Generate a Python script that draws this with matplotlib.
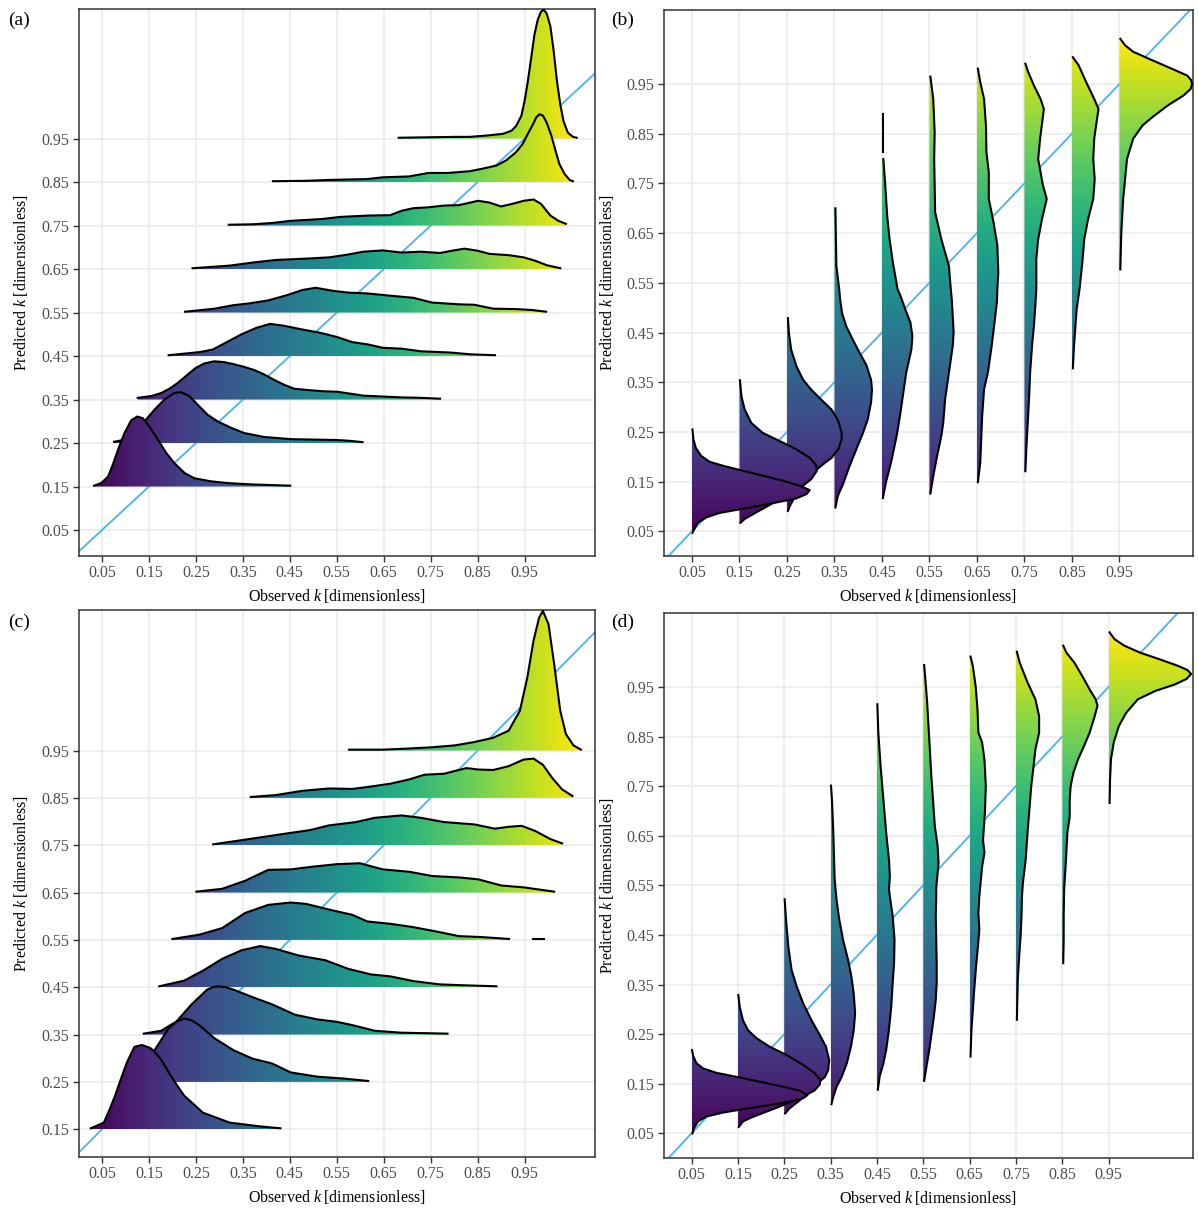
import numpy as np
import matplotlib
matplotlib.use('Agg')
import matplotlib.pyplot as plt
from matplotlib.colors import Normalize
from matplotlib.patches import Polygon

plt.rcParams['font.family'] = ['Liberation Serif', 'DejaVu Serif']
plt.rcParams['mathtext.fontset'] = 'custom'
plt.rcParams['mathtext.it'] = 'Liberation Serif:italic'
plt.rcParams['mathtext.rm'] = 'Liberation Serif'

nan = np.nan
tick_vals = [0.05, 0.15, 0.25, 0.35, 0.45, 0.55, 0.65, 0.75, 0.85, 0.95]

# ---------- panel (a): horizontal ridges, density over observed k ----------
a_levels = [0.15, 0.25, 0.35, 0.45, 0.55, 0.65, 0.75, 0.85, 0.95]
a_obs = [
    [0.033, 0.0485, 0.063, 0.073, 0.084, 0.098, 0.112, 0.125, 0.137, 0.151, 0.169, 0.187, 0.204, 0.226, 0.247, 0.282, 0.318, 0.367, 0.451],
    [0.0755, 0.091, 0.112, 0.130, 0.144, 0.162, 0.183, 0.204, 0.218, 0.236, 0.254, 0.275, 0.296, 0.325, 0.353, 0.395, 0.452, 0.551, 0.580, 0.605],
    [0.126, 0.155, 0.176, 0.194, 0.211, 0.233, 0.250, 0.268, 0.289, 0.311, 0.332, 0.353, 0.374, 0.395, 0.417, 0.438, 0.459, 0.487, 0.523, 0.551, 0.607, 0.688, 0.729, 0.770],
    [0.192, 0.257, 0.286, 0.314, 0.347, 0.379, 0.408, 0.436, 0.477, 0.517, 0.550, 0.583, 0.615, 0.648, 0.688, 0.729, 0.794, 0.835, 0.887],
    [0.227, 0.290, 0.330, 0.363, 0.404, 0.444, 0.477, 0.505, 0.542, 0.574, 0.615, 0.672, 0.713, 0.753, 0.810, 0.843, 0.883, 0.932, 0.965, 0.996],
    [0.243, 0.322, 0.371, 0.420, 0.485, 0.534, 0.566, 0.607, 0.648, 0.688, 0.729, 0.770, 0.794, 0.822, 0.851, 0.875, 0.916, 0.948, 0.973, 0.997, 1.026],
    [0.320, 0.371, 0.412, 0.452, 0.517, 0.558, 0.615, 0.664, 0.688, 0.713, 0.745, 0.778, 0.810, 0.851, 0.875, 0.900, 0.924, 0.948, 0.969, 0.985, 1.005, 1.022, 1.038],
    [0.414, 0.485, 0.534, 0.615, 0.648, 0.704, 0.745, 0.786, 0.833, 0.861, 0.890, 0.911, 0.932, 0.946, 0.957, 0.968, 0.975, 0.982, 0.989, 0.997, 1.007, 1.016, 1.024, 1.035, 1.046, 1.053],
    [0.682, 0.802, 0.833, 0.869, 0.904, 0.922, 0.932, 0.943, 0.950, 0.957, 0.964, 0.971, 0.978, 0.985, 0.991, 0.997, 1.005, 1.012, 1.019, 1.026, 1.033, 1.042, 1.053, 1.061],
]
a_dens = [
    [.002, .008, .023, .050, .084, .123, .152, .161, .157, .138, .108, .077, .054, .031, .019, .012, .008, .005, .002],
    [.003, .006, .019, .037, .054, .077, .100, .115, .117, .108, .088, .065, .050, .035, .023, .014, .009, .007, .005, .002],
    [.004, .008, .015, .025, .038, .058, .073, .083, .088, .086, .081, .075, .068, .058, .045, .034, .025, .022, .019, .018, .009, .005, .004, .002],
    [.002, .009, .015, .031, .050, .065, .074, .070, .061, .053, .044, .032, .027, .019, .017, .011, .008, .004, .002],
    [.002, .009, .017, .021, .028, .040, .052, .057, .050, .046, .044, .038, .034, .023, .019, .018, .009, .008, .006, .002],
    [.002, .008, .015, .021, .024, .027, .032, .040, .043, .038, .040, .037, .042, .047, .042, .035, .032, .027, .019, .009, .002],
    [.002, .003, .006, .011, .015, .020, .023, .024, .034, .040, .042, .046, .047, .057, .053, .044, .050, .057, .060, .050, .023, .011, .004],
    [.002, .003, .005, .007, .011, .013, .021, .021, .025, .031, .038, .050, .069, .088, .111, .133, .149, .156, .153, .137, .107, .072, .042, .019, .005, .002],
    [.002, .004, .004, .007, .011, .018, .029, .052, .086, .132, .185, .239, .273, .292, .296, .288, .258, .201, .132, .079, .040, .014, .004, .002],
]

# ---------- panel (c) ----------
c_levels = [0.15, 0.25, 0.35, 0.45, 0.55, 0.65, 0.75, 0.85, 0.95]
c_obs = [
    [0.026, 0.054, 0.066, 0.078, 0.091, 0.103, 0.119, 0.135, 0.152, 0.160, 0.176, 0.192, 0.209, 0.225, 0.265, 0.322, 0.387, 0.430],
    [0.103, 0.135, 0.160, 0.192, 0.209, 0.225, 0.241, 0.257, 0.290, 0.330, 0.371, 0.412, 0.452, 0.509, 0.566, 0.617],
    [0.139, 0.176, 0.209, 0.241, 0.274, 0.286, 0.298, 0.314, 0.330, 0.371, 0.412, 0.461, 0.509, 0.550, 0.583, 0.631, 0.688, 0.786],
    [0.172, 0.225, 0.265, 0.306, 0.347, 0.387, 0.420, 0.469, 0.526, 0.574, 0.623, 0.664, 0.713, 0.770, 0.826, 0.890],
    [0.200, 0.257, 0.306, 0.355, 0.404, 0.452, 0.485, 0.534, 0.583, 0.615, 0.664, 0.713, 0.761, 0.810, 0.859, 0.917, 0.940, 0.969, 0.991],
    [0.251, 0.306, 0.355, 0.404, 0.452, 0.501, 0.550, 0.599, 0.648, 0.704, 0.753, 0.810, 0.851, 0.900, 0.948, 1.013],
    [0.287, 0.363, 0.444, 0.493, 0.534, 0.591, 0.631, 0.688, 0.729, 0.778, 0.843, 0.887, 0.916, 0.944, 0.973, 1.005, 1.030],
    [0.367, 0.420, 0.477, 0.534, 0.583, 0.615, 0.664, 0.704, 0.737, 0.778, 0.826, 0.851, 0.883, 0.916, 0.948, 0.969, 0.989, 1.009, 1.030, 1.052],
    [0.576, 0.648, 0.696, 0.753, 0.802, 0.843, 0.883, 0.916, 0.940, 0.956, 0.969, 0.981, 0.989, 1.001, 1.013, 1.026, 1.038, 1.054, 1.070],
]
c_dens = [
    [.002, .014, .041, .071, .108, .141, .174, .178, .172, .166, .147, .120, .094, .071, .035, .014, .006, .002],
    [.002, .021, .064, .113, .127, .134, .130, .120, .092, .067, .049, .039, .020, .011, .007, .002],
    [.002, .008, .028, .064, .095, .100, .102, .100, .095, .079, .064, .042, .032, .027, .020, .008, .004, .002],
    [.002, .014, .035, .060, .078, .087, .081, .067, .057, .039, .027, .023, .013, .006, .004, .002],
    [.002, .011, .025, .057, .074, .079, .076, .064, .053, .039, .034, .027, .018, .008, .006, .002, nan, .002, .002],
    [.002, .008, .025, .048, .049, .055, .060, .062, .049, .044, .035, .032, .028, .015, .011, .002],
    [.002, .013, .025, .032, .042, .049, .058, .063, .058, .049, .044, .035, .039, .041, .030, .013, .004],
    [.002, .006, .015, .020, .019, .023, .030, .039, .049, .051, .063, .060, .059, .067, .081, .083, .070, .042, .018, .004],
    [.002, .002, .004, .007, .011, .018, .027, .042, .084, .155, .232, .281, .295, .267, .183, .084, .035, .011, .002],
]

# ---------- panel (b): vertical ridges, density over predicted k ----------
b_levels = [0.05, 0.15, 0.25, 0.35, 0.45, 0.55, 0.65, 0.75, 0.85, 0.95]
b_pred = [
    [0.047, 0.051, 0.067, 0.078, 0.087, 0.093, 0.100, 0.108, 0.116, 0.125, 0.133, 0.142, 0.152, 0.162, 0.172, 0.182, 0.190, 0.202, 0.218, 0.235, 0.255],
    [0.067, 0.075, 0.088, 0.100, 0.115, 0.128, 0.142, 0.155, 0.172, 0.182, 0.198, 0.215, 0.232, 0.248, 0.268, 0.295, 0.322, 0.354],
    [0.091, 0.101, 0.115, 0.142, 0.168, 0.185, 0.198, 0.215, 0.235, 0.248, 0.272, 0.295, 0.315, 0.335, 0.355, 0.382, 0.415, 0.449, 0.479],
    [0.098, 0.121, 0.145, 0.182, 0.215, 0.248, 0.275, 0.309, 0.335, 0.355, 0.385, 0.409, 0.435, 0.462, 0.489, 0.516, 0.537, 0.584, 0.700],
    [0.117, 0.147, 0.188, 0.242, 0.289, 0.316, 0.369, 0.416, 0.443, 0.470, 0.497, 0.524, 0.537, 0.591, 0.638, 0.685, 0.746, 0.799, 0.806, 0.813, 0.890],
    [0.126, 0.161, 0.201, 0.242, 0.268, 0.316, 0.369, 0.423, 0.450, 0.484, 0.517, 0.537, 0.584, 0.638, 0.692, 0.746, 0.799, 0.853, 0.920, 0.965],
    [0.149, 0.188, 0.235, 0.282, 0.336, 0.369, 0.423, 0.470, 0.511, 0.537, 0.571, 0.625, 0.672, 0.719, 0.772, 0.813, 0.867, 0.920, 0.954, 0.981],
    [0.171, 0.215, 0.268, 0.322, 0.369, 0.423, 0.463, 0.504, 0.537, 0.598, 0.638, 0.678, 0.719, 0.746, 0.799, 0.840, 0.900, 0.920, 0.947, 0.974, 0.991],
    [0.378, 0.416, 0.457, 0.497, 0.537, 0.591, 0.638, 0.678, 0.719, 0.759, 0.799, 0.840, 0.867, 0.900, 0.920, 0.954, 0.988, 1.004],
    [0.577, 0.651, 0.719, 0.799, 0.840, 0.867, 0.883, 0.907, 0.927, 0.940, 0.950, 0.958, 0.967, 0.981, 0.998, 1.015, 1.028, 1.041],
]
b_dens = [
    [.001, .003, .012, .030, .058, .093, .135, .177, .219, .241, .248, .226, .191, .149, .107, .065, .037, .019, .008, .003, .001],
    [.002, .011, .035, .058, .084, .110, .134, .151, .163, .162, .148, .120, .084, .049, .025, .011, .004, .001],
    [.002, .006, .014, .034, .055, .076, .094, .108, .115, .115, .108, .094, .072, .051, .034, .020, .009, .004, .002],
    [.002, .007, .018, .032, .046, .060, .070, .077, .079, .077, .067, .053, .039, .025, .016, .012, .010, .004, .002],
    [.002, .008, .019, .031, .039, .043, .051, .062, .064, .060, .049, .039, .033, .023, .016, .011, .007, .003, nan, .002, .002],
    [.002, .008, .016, .025, .029, .033, .041, .049, .051, .049, .047, .045, .041, .025, .012, .011, .010, .011, .008, .002],
    [.002, .007, .009, .011, .015, .023, .031, .037, .042, .043, .045, .043, .035, .025, .025, .020, .019, .015, .007, .002],
    [.002, .004, .007, .010, .012, .016, .020, .023, .025, .025, .029, .037, .047, .039, .029, .033, .041, .034, .020, .008, .002],
    [.002, .004, .007, .010, .016, .022, .026, .034, .045, .048, .045, .047, .051, .056, .047, .030, .014, .002],
    [.002, .004, .008, .016, .029, .049, .069, .102, .135, .150, .153, .151, .143, .110, .069, .029, .012, .002],
]

# ---------- panel (d) ----------
d_levels = [0.05, 0.15, 0.25, 0.35, 0.45, 0.55, 0.65, 0.75, 0.85, 0.95]
d_pred = [
    [0.050, 0.060, 0.074, 0.084, 0.092, 0.100, 0.107, 0.114, 0.121, 0.127, 0.136, 0.144, 0.154, 0.164, 0.172, 0.181, 0.191, 0.205, 0.218],
    [0.063, 0.074, 0.082, 0.104, 0.124, 0.137, 0.149, 0.158, 0.171, 0.188, 0.208, 0.225, 0.242, 0.258, 0.278, 0.305, 0.329],
    [0.090, 0.100, 0.117, 0.144, 0.164, 0.178, 0.198, 0.225, 0.248, 0.278, 0.312, 0.346, 0.379, 0.426, 0.480, 0.522],
    [0.109, 0.124, 0.144, 0.164, 0.191, 0.225, 0.258, 0.292, 0.332, 0.366, 0.399, 0.440, 0.480, 0.520, 0.561, 0.588, 0.656, 0.723, 0.751],
    [0.138, 0.165, 0.191, 0.218, 0.259, 0.306, 0.353, 0.393, 0.441, 0.488, 0.528, 0.542, 0.568, 0.602, 0.656, 0.723, 0.790, 0.858, 0.915],
    [0.156, 0.185, 0.218, 0.252, 0.286, 0.319, 0.353, 0.393, 0.441, 0.488, 0.528, 0.542, 0.555, 0.595, 0.629, 0.669, 0.723, 0.777, 0.844, 0.925, 0.994],
    [0.205, 0.259, 0.299, 0.340, 0.387, 0.427, 0.461, 0.494, 0.528, 0.548, 0.588, 0.615, 0.642, 0.696, 0.750, 0.804, 0.838, 0.858, 0.905, 0.952, 0.992, 1.011],
    [0.279, 0.319, 0.360, 0.407, 0.447, 0.488, 0.528, 0.555, 0.602, 0.656, 0.703, 0.750, 0.790, 0.824, 0.858, 0.891, 0.925, 0.959, 0.999, 1.021],
    [0.393, 0.441, 0.488, 0.542, 0.602, 0.656, 0.689, 0.723, 0.750, 0.777, 0.804, 0.831, 0.858, 0.885, 0.912, 0.925, 0.945, 0.972, 0.999, 1.019, 1.033],
    [0.716, 0.763, 0.804, 0.838, 0.871, 0.898, 0.925, 0.942, 0.955, 0.966, 0.976, 0.984, 0.992, 1.006, 1.019, 1.033, 1.046, 1.060],
]
d_dens = [
    [.002, .005, .014, .032, .068, .119, .169, .213, .241, .250, .234, .198, .148, .097, .054, .025, .011, .004, .001],
    [.002, .011, .029, .090, .141, .166, .177, .178, .166, .141, .105, .068, .040, .022, .011, .004, .001],
    [.002, .011, .034, .063, .088, .095, .097, .090, .077, .059, .041, .027, .016, .009, .004, .001],
    [.002, .006, .013, .024, .035, .044, .050, .053, .050, .045, .038, .027, .019, .013, .009, .008, .006, .003, .001],
    [.002, .006, .014, .020, .026, .031, .034, .037, .038, .034, .028, .026, .028, .026, .020, .014, .008, .003, .001],
    [.002, .007, .013, .018, .023, .027, .029, .029, .028, .027, .028, .028, .029, .033, .031, .025, .021, .017, .013, .008, .002],
    [.002, .004, .007, .010, .014, .018, .021, .019, .021, .023, .027, .032, .029, .033, .035, .032, .027, .019, .017, .013, .007, .002],
    [.002, .003, .004, .007, .010, .012, .013, .015, .021, .025, .029, .033, .038, .042, .050, .050, .042, .025, .008, .002],
    [.002, .003, .003, .004, .008, .011, .016, .016, .018, .024, .034, .047, .059, .068, .076, .072, .059, .043, .026, .009, .002],
    [.002, .003, .005, .011, .022, .038, .063, .101, .143, .168, .178, .170, .151, .109, .068, .034, .013, .002],
]

# offset of the 1:1 reference line in each panel
diag_offset = {'a': 0.0, 'b': 0.0, 'c': 0.1, 'd': 0.0}


def draw_ridge(ax, pos, dens, base, horizontal, norm, z):
    pos = np.asarray(pos, float)
    dens = np.asarray(dens, float)
    breaks = np.where(np.isnan(dens))[0]
    for idx in np.split(np.arange(len(pos)), breaks):
        idx = idx[~np.isnan(dens[idx])]
        if len(idx) < 2:
            continue
        p, d = pos[idx], dens[idx]
        if horizontal:
            verts = np.column_stack([np.r_[p, p[::-1]], np.r_[base + d, np.full(len(p), base)]])
            extent = [p.min(), p.max(), base, base + d.max()]
            grad = np.linspace(p.min(), p.max(), 256)[None, :]
        else:
            verts = np.column_stack([np.r_[base + d, np.full(len(p), base)], np.r_[p, p[::-1]]])
            extent = [base, base + d.max(), p.min(), p.max()]
            grad = np.linspace(p.min(), p.max(), 256)[:, None]
        clip = Polygon(verts, closed=True, transform=ax.transData,
                       facecolor='none', edgecolor='none')
        ax.add_patch(clip)
        im = ax.imshow(grad, extent=extent, origin='lower', aspect='auto',
                       cmap='viridis', norm=norm, zorder=z, interpolation='bilinear')
        im.set_clip_path(clip)
        if horizontal:
            ax.plot(p, base + d, color='black', lw=1.5, zorder=z + 0.5,
                    solid_joinstyle='round')
        else:
            ax.plot(base + d, p, color='black', lw=1.5, zorder=z + 0.5,
                    solid_joinstyle='round')


def panel(ax, levels, pos, dens, horizontal, key, xlim, ylim, yticks):
    allpos = np.concatenate([np.asarray(p, float) for p in pos])
    norm = Normalize(allpos.min(), allpos.max())
    ax.axline((0, diag_offset[key]), slope=1, color='#56B4E9', lw=1.4, zorder=1.5)
    # highest level first so lower ridges overlap it
    for i in range(len(levels) - 1, -1, -1):
        draw_ridge(ax, pos[i], dens[i], levels[i], horizontal, norm, 2 + (len(levels) - i))
    ax.set_xlim(*xlim)
    ax.set_ylim(*ylim)
    ax.set_xticks(tick_vals)
    ax.set_yticks(yticks)
    ax.set_xticklabels([f'{v:.2f}' for v in tick_vals])
    ax.set_yticklabels([f'{v:.2f}' for v in yticks])
    ax.grid(True, color='#EBEBEB', lw=1.2)
    ax.set_axisbelow(True)
    for sp in ax.spines.values():
        sp.set_color('#333333')
        sp.set_linewidth(1.1)
    ax.tick_params(color='#333333', length=4, width=1.0, labelcolor='#4D4D4D',
                   labelsize=11.5, pad=3)
    ax.set_xlabel('Observed $k$\u2009[dimensionless]', fontsize=11.5, labelpad=4)
    ax.set_ylabel('Predicted $k$\u2009[dimensionless]', fontsize=11.5, labelpad=7.5)


fig = plt.figure(figsize=(11.98, 12.09), dpi=100)
W, H = 1198, 1209


def box(l, t, r, b):
    return [l / W, 1 - b / H, (r - l) / W, (b - t) / H]


ax_a = fig.add_axes(box(78.5, 9, 595, 555.7))
ax_b = fig.add_axes(box(663.7, 10, 1193, 555.7))
ax_c = fig.add_axes(box(78.5, 610, 595, 1156.7))
ax_d = fig.add_axes(box(663.7, 613, 1193, 1157.7))

panel(ax_a, a_levels, a_obs, a_dens, True, 'a', (0.0, 1.1), (-0.009, 1.248), tick_vals)
panel(ax_c, c_levels, c_obs, c_dens, True, 'c', (0.0, 1.1), (0.092, 1.247), tick_vals[1:])
panel(ax_b, b_levels, b_pred, b_dens, False, 'b', (-0.0096, 1.105), (0.001, 1.099), tick_vals)
panel(ax_d, d_levels, d_pred, d_dens, False, 'd', (-0.010, 1.132), (0.001, 1.099), tick_vals)

for lab, x, y in [('(a)', 8, 20), ('(b)', 611, 20), ('(c)', 8, 622), ('(d)', 611, 622)]:
    fig.text(x / W, 1 - y / H, lab, fontsize=14, ha='left', va='center')

fig.savefig('out.png', dpi=100)
